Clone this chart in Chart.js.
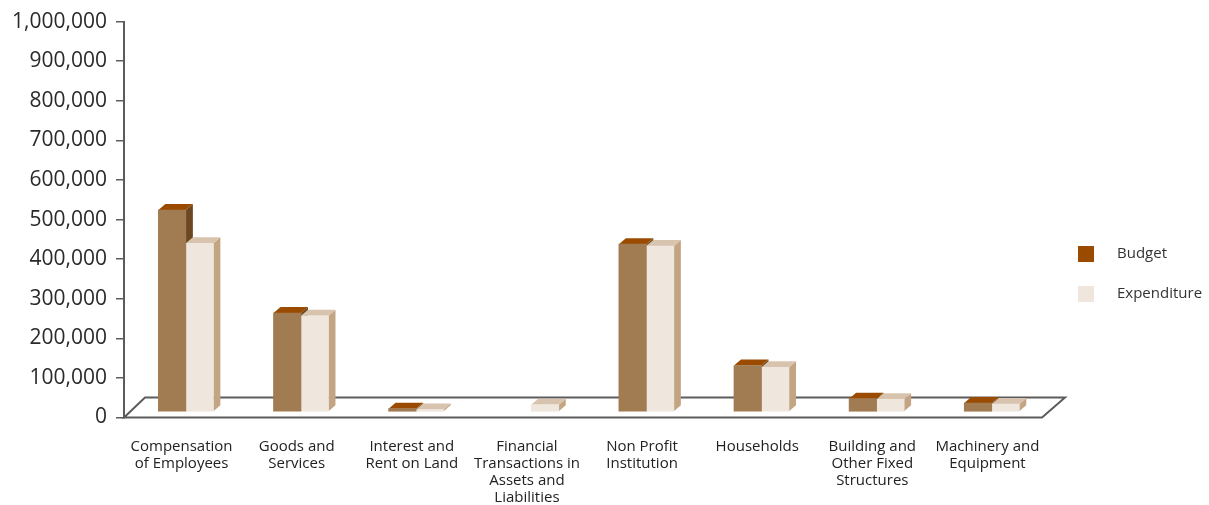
<!DOCTYPE html>
<html>
<head>
<meta charset="utf-8">
<script src="https://cdn.jsdelivr.net/npm/chart.js@4/dist/chart.umd.min.js"></script>
<style>
  html, body { margin: 0; padding: 0; background: #ffffff; }
  #wrap { position: relative; width: 1209px; height: 505px; }
</style>
</head>
<body>
<div id="wrap"><canvas id="chart"></canvas></div>
<script>
// Spending by economic classification
const categories = [
  ["Compensation", "of Employees"],
  ["Goods and", "Services"],
  ["Interest and", "Rent on Land"],
  ["Financial", "Transactions in", "Assets and", "Liabilities"],
  ["Non Profit", "Institution"],
  ["Households"],
  ["Building and", "Other Fixed", "Structures"],
  ["Machinery and", "Equipment"]
];
const budget      = [510000, 250000, 8500, null, 424000, 117500, 33700, 22600];
const expenditure = [426000, 243000, 6000, 18600, 419000, 113000, 32000, 20000];
const seriesNames = ["Budget", "Expenditure"];
const yTickValues = [0, 100000, 200000, 300000, 400000, 500000, 600000, 700000, 800000, 900000, 1000000];

const FONT = "'Open Sans', 'Noto Sans', sans-serif";
const AXIS = '#5c5c5c';

// face colours per series: front, top, side
const faces = [
  { front: '#a17b51', top: '#9b4b00', side: '#6b4722', key: '#9b4b00' },
  { front: '#efe6dd', top: '#d8c4ae', side: '#c4a583', key: '#efe6dd' }
];

// depth of the boxes and of the floor
const BAR_DX = 7, BAR_DY = 6;     // box depth
const OFF_X = 4.3, OFF_Y = 5.5;   // bars sit a little back from the front edge
const FLOOR_DX = 21, FLOOR_DY = 20;

const threeD = {
  id: 'threeD',
  beforeDatasetsDraw(chart) {
    const ctx = chart.ctx;
    const a = chart.chartArea;
    // floor outline
    ctx.save();
    ctx.strokeStyle = AXIS;
    ctx.lineWidth = 2;
    ctx.beginPath();
    ctx.moveTo(a.left, a.bottom);
    ctx.lineTo(a.right - 3, a.bottom);
    ctx.lineTo(a.right - 3 + 23, a.bottom - FLOOR_DY);
    ctx.lineTo(a.left + FLOOR_DX, a.bottom - FLOOR_DY);
    ctx.closePath();
    ctx.stroke();
    ctx.restore();

    // shift the boxes back, then draw their tops and sides (fronts follow from the library)
    ctx.save();
    ctx.translate(OFF_X, -OFF_Y);
    const n = chart.data.labels.length;
    for (let i = 0; i < n; i++) {
      chart.data.datasets.forEach((ds, d) => {
        if (ds.data[i] == null) return;
        const el = chart.getDatasetMeta(d).data[i];
        if (!el) return;
        const p = el.getProps(['x', 'y', 'base', 'width'], true);
        if (!isFinite(p.y) || Math.abs(p.base - p.y) < 0.5) return;
        const l = p.x - p.width / 2, r = p.x + p.width / 2;
        const t = p.y, b = p.base;
        const f = faces[d];
        ctx.fillStyle = f.side;
        ctx.beginPath();
        ctx.moveTo(r, b); ctx.lineTo(r + BAR_DX, b - BAR_DY);
        ctx.lineTo(r + BAR_DX, t - BAR_DY); ctx.lineTo(r, t);
        ctx.closePath(); ctx.fill();
        ctx.fillStyle = f.top;
        ctx.beginPath();
        ctx.moveTo(l, t); ctx.lineTo(r, t);
        ctx.lineTo(r + BAR_DX, t - BAR_DY); ctx.lineTo(l + BAR_DX, t - BAR_DY);
        ctx.closePath(); ctx.fill();
      });
    }
  },
  afterDatasetsDraw(chart) {
    chart.ctx.restore();
  },
  afterDraw(chart) {
    // series key on the right
    const ctx = chart.ctx;
    ctx.save();
    ctx.font = '15px ' + FONT;
    ctx.textBaseline = 'middle';
    chart.data.datasets.forEach((ds, d) => {
      const cy = 254 + d * 40;
      ctx.fillStyle = faces[d].key;
      ctx.fillRect(1078, cy - 8, 16, 16);
      ctx.fillStyle = '#333333';
      ctx.fillText(ds.label, 1117, cy);
    });
    ctx.restore();
  }
};

new Chart(document.getElementById('chart'), {
  type: 'bar',
  data: {
    labels: categories,
    datasets: [
      { label: seriesNames[0], data: budget, backgroundColor: faces[0].front, clip: false },
      { label: seriesNames[1], data: expenditure, backgroundColor: faces[1].front, clip: false }
    ]
  },
  options: {
    responsive: true,
    maintainAspectRatio: false,
    animation: false,
    events: [],
    layout: { padding: { left: 0, right: 164, top: 20, bottom: 0 } },
    barThickness: 27.5,
    plugins: { legend: { display: false }, tooltip: { enabled: false } },
    scales: {
      x: {
        grid: { display: false, drawTicks: false },
        border: { display: false },
        ticks: {
          autoSkip: false, maxRotation: 0, minRotation: 0, padding: 21,
          color: '#222222',
          font: { family: FONT, size: 15, lineHeight: '17px' }
        },
        afterFit(scale) { scale.height = 87.5; }
      },
      y: {
        min: 0, max: 1000000,
        afterBuildTicks(scale) { scale.ticks = yTickValues.map(v => ({ value: v })); },
        grid: { drawOnChartArea: false, drawTicks: true, tickLength: 8, color: AXIS, lineWidth: 1.5 },
        border: { display: true, color: AXIS, width: 2 },
        ticks: {
          padding: 9,
          color: '#2a2a2a',
          font: { family: FONT, size: 21 },
          callback: v => Number(v).toLocaleString('en-US')
        },
        afterFit(scale) { scale.width = 124; }
      }
    }
  },
  plugins: [threeD]
});
</script>
</body>
</html>
